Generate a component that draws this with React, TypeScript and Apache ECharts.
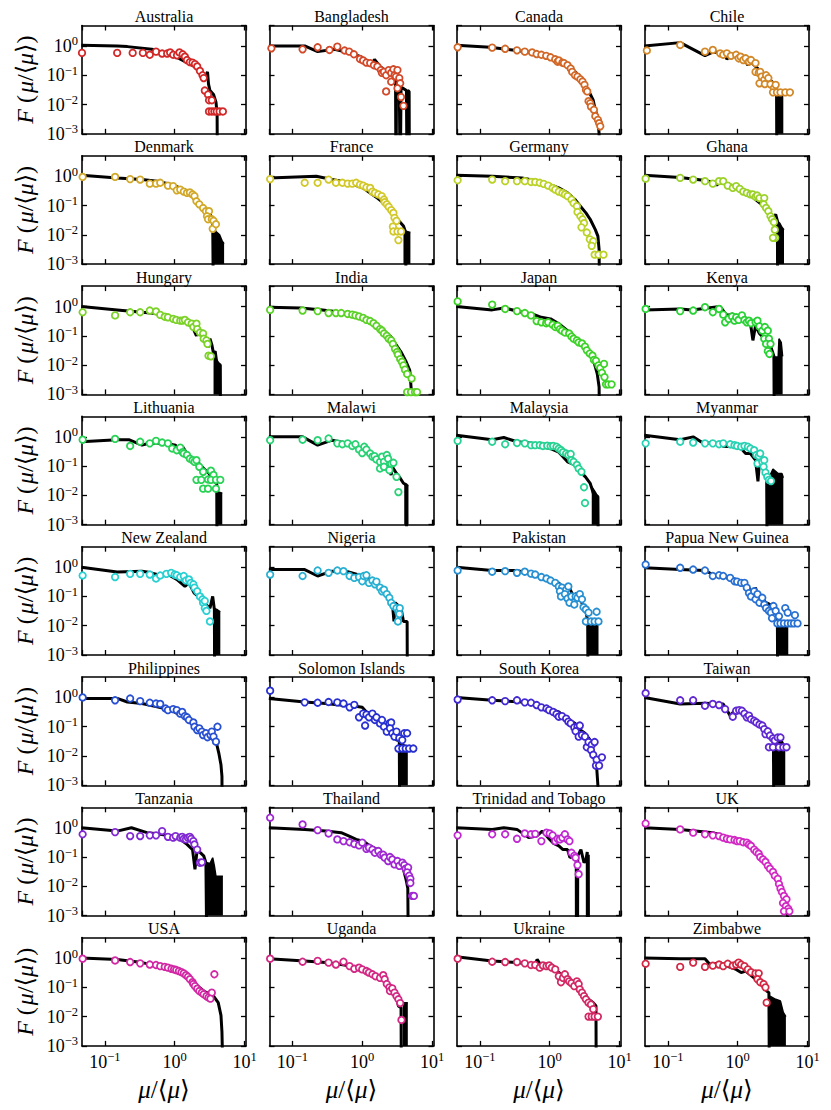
import React, { useEffect, useRef } from "react";
import * as echarts from "echarts";

// ---------- data: x = mu/<mu>, y = F(mu/<mu>) ----------
const countries = [
  "Australia", "Bangladesh", "Canada", "Chile",
  "Denmark", "France", "Germany", "Ghana",
  "Hungary", "India", "Japan", "Kenya",
  "Lithuania", "Malawi", "Malaysia", "Myanmar",
  "New Zealand", "Nigeria", "Pakistan", "Papua New Guinea",
  "Philippines", "Solomon Islands", "South Korea", "Taiwan",
  "Tanzania", "Thailand", "Trinidad and Tobago", "UK",
  "USA", "Uganda", "Ukraine", "Zimbabwe",
];

const xTickExponents = [-1, 0, 1];
const yTickExponents = [-3, -2, -1, 0];

const lineAustralia = [[0.046,1.05],[0.15,1.0],[0.21,0.95],[0.47,0.77],[0.76,0.56],[1.03,0.43],[1.41,0.29],[1.92,0.2],[2.3,0.12],[2.8,0.1],[2.95,0.13],[3.05,0.05],[3.2,0.03],[3.6,0.022],[3.9,0.012],[4.05,0.005],[4.1,0.00001]];
const dotsAustralia = [[0.047,0.58],[0.15,0.58],[0.25,0.58],[0.35,0.58],[0.44,0.5],[0.54,0.64],[0.66,0.55],[0.78,0.55],[0.86,0.6],[0.95,0.5],[1.08,0.48],[1.17,0.6],[1.3,0.52],[1.4,0.43],[1.5,0.33],[1.65,0.28],[1.8,0.27],[1.95,0.24],[2.1,0.2],[2.3,0.14],[2.5,0.1],[2.6,0.08],[2.7,0.03],[3.0,0.022],[3.1,0.014],[3.4,0.014],[3.1,0.0058],[3.4,0.0058],[3.7,0.0058],[4.0,0.0058],[4.4,0.0058],[4.9,0.0058]];
const tailAustralia = [];

const lineBangladesh = [[0.046,1.0],[0.15,1.0],[0.23,0.64],[0.4,0.77],[0.7,0.56],[0.95,0.43],[1.2,0.29],[1.41,0.26],[1.5,0.35],[1.8,0.2],[2.4,0.12],[2.8,0.1],[3.0,0.1],[3.05,0.00001],[3.1,0.07],[3.4,0.05],[3.5,0.00001],[3.6,0.04],[4.3,0.03],[4.4,0.00001],[4.5,0.03],[4.7,0.028],[4.75,0.00001]];
const dotsBangladesh = [[0.05,0.83],[0.14,0.77],[0.23,0.9],[0.34,0.73],[0.44,0.95],[0.56,0.7],[0.65,0.64],[0.76,0.52],[0.93,0.36],[1.03,0.32],[1.15,0.27],[1.3,0.26],[1.47,0.22],[1.65,0.2],[1.85,0.15],[1.92,0.12],[2.05,0.13],[2.2,0.1],[2.4,0.15],[2.6,0.12],[2.8,0.16],[2.9,0.1],[3.05,0.09],[3.2,0.15],[3.4,0.08],[3.5,0.053],[2.2,0.028],[2.6,0.06],[3.2,0.036],[3.6,0.018],[3.9,0.009]];
const tailBangladesh = [];

const lineCanada = [[0.046,1.05],[0.14,0.9],[0.34,0.7],[0.65,0.56],[1.03,0.43],[1.41,0.33],[1.92,0.2],[2.4,0.12],[3.1,0.05],[3.6,0.03],[4.2,0.014],[4.5,0.0065],[4.9,0.0033],[5.1,0.001],[5.15,0.00001]];
const dotsCanada = [[0.048,0.9],[0.15,0.88],[0.23,0.8],[0.34,0.71],[0.44,0.64],[0.56,0.6],[0.65,0.53],[0.76,0.5],[0.89,0.46],[1.03,0.41],[1.2,0.35],[1.3,0.29],[1.35,0.32],[1.52,0.27],[1.6,0.26],[1.8,0.22],[2.0,0.17],[2.1,0.13],[2.3,0.1],[2.5,0.09],[2.75,0.073],[2.95,0.061],[3.15,0.047],[3.3,0.032],[3.45,0.028],[3.6,0.013],[3.8,0.011],[3.9,0.0085],[4.3,0.0066],[4.5,0.004],[4.9,0.003],[5.1,0.0023],[5.3,0.0018]];
const tailCanada = [];

const lineChile = [[0.046,1.0],[0.15,1.3],[0.34,0.47],[0.44,0.62],[0.56,0.6],[0.65,0.6],[0.7,0.35],[0.78,0.5],[0.95,0.42],[1.05,0.3],[1.15,0.45],[1.3,0.3],[1.4,0.22],[1.5,0.3],[1.8,0.2],[2.4,0.1],[3.1,0.06],[3.6,0.028],[3.65,0.00001]];
const dotsChile = [[0.05,0.7],[0.15,1.08],[0.34,0.64],[0.44,0.73],[0.56,0.56],[0.62,0.5],[0.7,0.56],[0.8,0.46],[0.95,0.5],[1.03,0.38],[1.1,0.43],[1.2,0.33],[1.3,0.38],[1.45,0.29],[1.55,0.33],[1.8,0.26],[1.8,0.13],[2.0,0.12],[2.1,0.13],[2.2,0.09],[2.4,0.07],[2.55,0.1],[2.75,0.08],[2.05,0.053],[2.45,0.05],[2.95,0.049],[3.3,0.036],[3.5,0.047],[3.2,0.026],[3.65,0.026],[4.1,0.026],[4.8,0.026],[5.6,0.026]];
const tailChile = [[3.6,0.026],[4.5,0.024]];

const lineDenmark = [[0.046,1.08],[0.15,0.88],[0.34,0.77],[0.56,0.68],[0.89,0.52],[1.2,0.4],[1.65,0.24],[1.85,0.2],[1.95,0.13],[2.05,0.18],[2.4,0.095],[3.1,0.064],[3.5,0.03],[3.6,0.00001]];
const dotsDenmark = [[0.048,0.95],[0.14,0.95],[0.23,0.8],[0.32,0.77],[0.44,0.56],[0.54,0.56],[0.62,0.6],[0.8,0.48],[0.95,0.46],[1.07,0.33],[1.2,0.35],[1.35,0.3],[1.5,0.27],[1.65,0.28],[1.8,0.24],[1.92,0.21],[2.05,0.14],[2.25,0.11],[2.55,0.082],[2.8,0.064],[3.1,0.064],[2.9,0.043],[3.0,0.034],[3.4,0.034],[3.6,0.03],[3.5,0.016],[3.9,0.023]];
const tailDenmark = [[3.5,0.02],[3.9,0.013],[4.4,0.01],[4.8,0.006],[5.1,0.005]];

const lineFrance = [[0.046,0.88],[0.22,1.0],[0.37,0.77],[0.65,0.6],[0.82,0.48],[1.03,0.4],[1.3,0.27],[1.65,0.18],[2.05,0.12],[2.4,0.08],[2.8,0.056],[3.2,0.034],[3.9,0.02],[4.2,0.012],[4.25,0.00001]];
const dotsFrance = [[0.048,0.8],[0.15,0.6],[0.23,0.6],[0.33,0.77],[0.42,0.6],[0.52,0.6],[0.62,0.56],[0.72,0.56],[0.82,0.6],[0.93,0.52],[1.03,0.48],[1.15,0.42],[1.3,0.4],[1.4,0.3],[1.52,0.27],[1.7,0.24],[1.9,0.21],[2.05,0.16],[2.1,0.13],[2.25,0.11],[2.4,0.09],[2.6,0.07],[2.8,0.056],[2.9,0.038],[3.1,0.03],[2.75,0.019],[2.8,0.013],[3.2,0.013],[3.6,0.013],[3.3,0.0066]];
const tailFrance = [[3.9,0.014],[4.9,0.012]];

const lineGermany = [[0.046,1.08],[0.15,1.0],[0.4,0.88],[0.7,0.68],[1.0,0.52],[1.35,0.4],[1.8,0.27],[2.3,0.16],[2.75,0.095],[3.3,0.056],[3.8,0.034],[4.5,0.015],[4.9,0.009],[5.1,0.0032],[5.2,0.00001]];
const dotsGermany = [[0.048,0.73],[0.15,0.77],[0.23,0.68],[0.34,0.68],[0.44,0.68],[0.54,0.64],[0.62,0.64],[0.72,0.6],[0.82,0.55],[0.95,0.48],[1.1,0.4],[1.2,0.35],[1.35,0.3],[1.52,0.27],[1.65,0.24],[1.8,0.21],[2.05,0.16],[2.2,0.12],[2.45,0.095],[2.5,0.06],[2.75,0.043],[2.95,0.034],[3.1,0.025],[2.85,0.018],[3.4,0.012],[3.75,0.007],[4.2,0.006],[4.0,0.0042],[4.4,0.0021],[5.0,0.0021],[5.9,0.0021]];
const tailGermany = [];

const lineGhana = [[0.046,1.08],[0.15,0.9],[0.3,0.75],[0.45,0.62],[0.5,0.5],[0.55,0.62],[0.95,0.45],[1.3,0.3],[1.7,0.18],[2.1,0.12],[2.5,0.08],[2.9,0.055],[3.3,0.04],[3.5,0.05],[3.7,0.03],[3.75,0.00001]];
const dotsGhana = [[0.048,0.83],[0.15,0.88],[0.23,0.77],[0.34,0.68],[0.44,0.56],[0.54,0.68],[0.62,0.68],[0.72,0.48],[0.85,0.4],[0.95,0.46],[1.07,0.37],[1.2,0.3],[1.35,0.27],[1.52,0.24],[1.65,0.24],[1.8,0.2],[1.9,0.22],[2.05,0.18],[2.4,0.18],[2.35,0.11],[2.55,0.083],[2.75,0.064],[2.95,0.043],[3.1,0.034],[3.3,0.027],[3.4,0.015],[3.45,0.0079],[3.2,0.0079]];
const tailGhana = [[3.7,0.03],[4.0,0.025],[4.3,0.018],[4.6,0.015]];

const lineHungary = [[0.046,1.0],[0.15,0.77],[0.34,0.64],[0.65,0.56],[0.76,0.43],[1.03,0.38],[1.4,0.29],[1.8,0.2],[2.05,0.1],[2.2,0.17],[2.4,0.12],[2.8,0.07],[3.0,0.04],[3.2,0.08],[3.4,0.05],[3.6,0.025],[3.8,0.03],[4.0,0.012],[4.5,0.01],[4.55,0.00001]];
const dotsHungary = [[0.048,0.64],[0.14,0.5],[0.23,0.64],[0.32,0.64],[0.44,0.73],[0.54,0.68],[0.62,0.52],[0.72,0.45],[0.8,0.43],[0.95,0.38],[1.05,0.35],[1.2,0.33],[1.3,0.33],[1.4,0.35],[1.55,0.29],[1.75,0.26],[1.85,0.2],[2.05,0.26],[2.1,0.17],[2.3,0.13],[2.55,0.12],[2.6,0.08],[2.85,0.07],[2.95,0.053],[3.05,0.021],[3.3,0.02]];
const tailHungary = [[3.6,0.02],[4.0,0.015],[4.5,0.01]];

const lineIndia = [[0.046,0.95],[0.13,0.9],[0.27,0.77],[0.5,0.64],[0.82,0.5],[1.2,0.38],[1.6,0.26],[2.05,0.15],[2.6,0.09],[3.1,0.047],[3.6,0.028],[4.2,0.014],[4.8,0.0066],[5.1,0.001],[5.15,0.00001]];
const dotsIndia = [[0.048,0.77],[0.14,0.73],[0.23,0.7],[0.33,0.6],[0.42,0.6],[0.5,0.6],[0.62,0.56],[0.72,0.53],[0.8,0.5],[0.9,0.46],[1.03,0.41],[1.15,0.35],[1.3,0.32],[1.45,0.27],[1.6,0.22],[1.8,0.17],[1.92,0.15],[2.05,0.12],[2.25,0.1],[2.4,0.08],[2.6,0.07],[2.75,0.053],[2.95,0.036],[3.15,0.028],[3.25,0.023],[3.5,0.016],[3.7,0.013],[3.9,0.0098],[4.1,0.007],[4.4,0.005],[5.1,0.0035],[4.4,0.0012],[5.0,0.0012],[5.7,0.0012],[6.1,0.0012]];
const tailIndia = [];

const lineJapan = [[0.046,1.0],[0.15,0.77],[0.22,0.9],[0.4,0.64],[0.56,0.56],[0.76,0.43],[1.03,0.38],[1.35,0.26],[1.8,0.15],[2.45,0.08],[3.1,0.047],[3.6,0.028],[4.3,0.013],[4.8,0.005],[5.1,0.0018],[5.2,0.00001]];
const dotsJapan = [[0.048,1.5],[0.15,1.17],[0.23,0.83],[0.34,0.7],[0.44,0.6],[0.54,0.5],[0.65,0.32],[0.76,0.29],[0.89,0.27],[0.95,0.29],[1.1,0.24],[1.2,0.2],[1.3,0.22],[1.4,0.17],[1.5,0.15],[1.65,0.13],[1.9,0.12],[2.05,0.095],[2.2,0.08],[2.45,0.07],[2.6,0.06],[2.9,0.055],[3.2,0.043],[3.4,0.032],[3.75,0.025],[4.1,0.021],[4.3,0.015],[4.6,0.014],[5.0,0.0098],[5.3,0.008],[6.0,0.011],[5.6,0.0055],[6.1,0.0039],[6.4,0.0022],[6.9,0.0022],[7.7,0.0022]];
const tailJapan = [];

const lineKenya = [[0.046,0.77],[0.15,0.83],[0.22,0.77],[0.56,1.0],[0.7,0.5],[0.85,0.56],[1.05,0.33],[1.12,0.43],[1.3,0.26],[1.4,0.35],[1.55,0.2],[1.65,0.07],[1.8,0.22],[2.05,0.12],[2.4,0.08],[2.75,0.061],[3.0,0.04],[3.3,0.02],[3.35,0.00001]];
const dotsKenya = [[0.048,0.83],[0.15,0.7],[0.23,0.73],[0.34,0.95],[0.44,0.64],[0.54,0.83],[0.62,0.53],[0.66,0.29],[0.74,0.38],[0.83,0.46],[0.9,0.33],[0.95,0.43],[1.03,0.35],[1.15,0.5],[1.25,0.35],[1.35,0.29],[1.45,0.33],[1.55,0.27],[1.8,0.29],[1.92,0.33],[2.05,0.21],[2.25,0.15],[2.45,0.2],[2.7,0.15],[2.4,0.08],[2.8,0.08],[2.55,0.053],[2.95,0.053],[2.7,0.03],[2.85,0.024]];
const tailKenya = [[3.3,0.019],[3.8,0.019],[3.9,0.08],[4.2,0.06],[4.4,0.02]];

const lineLithuania = [[0.046,0.68],[0.15,0.8],[0.22,0.8],[0.34,0.52],[0.44,0.62],[0.76,0.6],[1.03,0.52],[1.2,0.27],[1.3,0.46],[1.6,0.21],[2.05,0.16],[2.4,0.1],[3.1,0.056],[3.6,0.03],[4.0,0.026],[4.05,0.00001]];
const dotsLithuania = [[0.048,0.8],[0.14,0.85],[0.23,0.49],[0.32,0.68],[0.44,0.6],[0.54,0.73],[0.66,0.64],[0.8,0.6],[0.92,0.4],[1.07,0.35],[1.2,0.43],[1.3,0.3],[1.35,0.27],[1.5,0.24],[1.65,0.18],[1.8,0.16],[1.92,0.14],[2.05,0.16],[2.25,0.095],[2.55,0.064],[2.05,0.034],[2.4,0.034],[3.0,0.035],[3.3,0.07],[3.6,0.05],[3.3,0.034],[3.9,0.034],[4.5,0.034],[2.55,0.017],[3.0,0.017],[3.9,0.017]];
const tailLithuania = [[3.9,0.014],[4.8,0.012]];

const lineMalawi = [[0.046,1.0],[0.14,1.0],[0.23,0.52],[0.37,0.77],[0.62,0.6],[0.85,0.46],[1.03,0.35],[1.3,0.24],[1.65,0.16],[2.05,0.11],[2.35,0.095],[2.6,0.05],[2.7,0.095],[3.1,0.056],[3.4,0.043],[3.9,0.026],[4.3,0.023],[4.35,0.00001]];
const dotsMalawi = [[0.048,0.77],[0.14,0.8],[0.23,0.77],[0.33,0.88],[0.44,0.6],[0.52,0.56],[0.62,0.6],[0.72,0.49],[0.8,0.56],[0.9,0.37],[1.0,0.28],[1.07,0.46],[1.15,0.37],[1.3,0.27],[1.4,0.21],[1.5,0.22],[1.6,0.17],[1.8,0.14],[1.92,0.21],[2.05,0.14],[2.25,0.24],[2.35,0.18],[1.8,0.083],[2.05,0.095],[2.45,0.073],[2.6,0.12],[2.8,0.13],[3.1,0.043],[3.3,0.013]];
const tailMalawi = [[4.0,0.023],[4.6,0.022]];

const lineMalaysia = [[0.046,1.14],[0.15,0.8],[0.22,0.95],[0.34,0.68],[0.56,0.6],[0.76,0.46],[1.03,0.4],[1.35,0.3],[1.55,0.21],[1.8,0.14],[2.3,0.11],[2.75,0.064],[3.25,0.043],[3.8,0.026],[4.2,0.012],[4.9,0.009],[5.0,0.00001]];
const dotsMalaysia = [[0.048,0.73],[0.15,0.68],[0.23,0.56],[0.34,0.62],[0.44,0.6],[0.54,0.52],[0.62,0.52],[0.72,0.52],[0.8,0.49],[0.92,0.5],[1.03,0.48],[1.12,0.49],[1.25,0.46],[1.35,0.4],[1.45,0.35],[1.55,0.3],[1.72,0.27],[1.85,0.24],[2.0,0.26],[2.05,0.16],[2.2,0.14],[2.45,0.11],[2.6,0.083],[2.85,0.064],[3.1,0.019],[3.2,0.0055]];
const tailMalaysia = [[4.0,0.02],[4.5,0.013],[4.9,0.009]];

const lineMyanmar = [[0.046,1.14],[0.15,0.8],[0.23,1.0],[0.34,0.56],[0.44,0.68],[0.62,0.48],[0.85,0.46],[1.12,0.4],[1.3,0.27],[1.52,0.27],[1.8,0.16],[1.95,0.03],[2.05,0.14],[2.4,0.083],[2.6,0.034],[2.65,0.00001]];
const dotsMyanmar = [[0.048,0.6],[0.15,0.68],[0.23,0.64],[0.34,0.6],[0.44,0.6],[0.54,0.56],[0.62,0.6],[0.78,0.56],[0.9,0.52],[0.98,0.49],[1.12,0.46],[1.25,0.49],[1.4,0.46],[1.52,0.4],[1.72,0.35],[1.85,0.24],[2.0,0.22],[2.1,0.27],[1.92,0.123],[2.25,0.14],[2.4,0.16],[2.35,0.095],[2.5,0.06],[2.65,0.043],[2.8,0.034],[3.0,0.031]];
const tailMyanmar = [[2.7,0.033],[3.2,0.08],[3.8,0.056],[4.3,0.056],[4.5,0.04]];

const lineNewZealand = [[0.046,1.0],[0.15,0.68],[0.34,0.73],[0.4,0.68],[0.56,0.56],[0.8,0.56],[1.07,0.38],[1.4,0.22],[1.6,0.29],[1.9,0.13],[2.2,0.1],[2.8,0.053],[3.2,0.04],[3.5,0.1],[3.7,0.036],[3.75,0.00001]];
const dotsNewZealand = [[0.048,0.52],[0.14,0.46],[0.23,0.59],[0.32,0.59],[0.44,0.56],[0.54,0.41],[0.62,0.52],[0.76,0.59],[0.89,0.64],[1.0,0.56],[1.07,0.53],[1.2,0.46],[1.35,0.5],[1.45,0.35],[1.6,0.38],[1.7,0.29],[1.85,0.26],[1.92,0.2],[2.1,0.15],[2.3,0.1],[2.5,0.08],[2.55,0.061],[2.7,0.04],[2.85,0.032],[2.7,0.07],[3.2,0.014]];
const tailNewZealand = [[3.6,0.04],[4.1,0.035],[4.5,0.03]];

const lineNigeria = [[0.046,0.83],[0.15,0.83],[0.23,0.5],[0.37,0.73],[0.62,0.7],[0.85,0.56],[1.2,0.43],[1.45,0.29],[1.8,0.2],[2.25,0.12],[2.7,0.061],[2.85,0.014],[2.95,0.061],[3.6,0.04],[3.9,0.014],[4.4,0.014],[4.45,0.00001]];
const dotsNigeria = [[0.048,0.56],[0.14,0.5],[0.23,0.77],[0.33,0.64],[0.44,0.77],[0.54,0.73],[0.66,0.5],[0.77,0.43],[0.9,0.46],[1.0,0.33],[1.05,0.5],[1.15,0.53],[1.25,0.29],[1.4,0.35],[1.52,0.26],[1.6,0.32],[1.8,0.2],[1.92,0.15],[2.05,0.17],[2.25,0.12],[2.45,0.09],[2.6,0.061],[2.8,0.047],[3.1,0.04],[3.3,0.03],[3.45,0.04],[3.4,0.025],[3.25,0.014]];
const tailNigeria = [];

const linePakistan = [[0.046,1.0],[0.15,0.77],[0.34,0.77],[0.56,0.56],[0.76,0.46],[1.03,0.33],[1.35,0.29],[1.65,0.17],[1.9,0.2],[2.2,0.1],[2.45,0.13],[2.8,0.07],[3.3,0.032],[3.5,0.014],[3.55,0.00001]];
const dotsPakistan = [[0.048,0.77],[0.15,0.7],[0.23,0.73],[0.34,0.64],[0.44,0.7],[0.54,0.6],[0.62,0.56],[0.76,0.46],[0.9,0.41],[1.03,0.35],[1.2,0.29],[1.35,0.22],[1.5,0.2],[1.72,0.17],[1.85,0.22],[1.4,0.15],[1.45,0.1],[1.65,0.12],[1.8,0.085],[1.92,0.061],[2.05,0.1],[2.25,0.053],[2.35,0.1],[2.5,0.09],[2.7,0.12],[2.9,0.08],[3.05,0.043],[3.3,0.036],[3.6,0.028],[3.3,0.014],[3.9,0.014],[4.4,0.014],[5.0,0.014],[4.7,0.03]];
const tailPakistan = [[3.5,0.014],[5.0,0.014]];

const linePapuaNewGuinea = [[0.046,0.95],[0.15,0.83],[0.34,0.77],[0.44,0.56],[0.7,0.43],[0.9,0.33],[1.12,0.26],[1.4,0.22],[1.65,0.12],[1.8,0.2],[1.92,0.1],[2.25,0.08],[2.55,0.061],[3.25,0.047],[3.5,0.036],[3.7,0.018],[3.75,0.00001]];
const dotsPapuaNewGuinea = [[0.048,1.23],[0.15,0.95],[0.23,0.83],[0.34,0.77],[0.44,0.5],[0.54,0.53],[0.62,0.5],[0.78,0.43],[0.9,0.33],[0.98,0.32],[1.12,0.29],[1.25,0.29],[1.35,0.2],[1.45,0.13],[1.55,0.1],[1.72,0.15],[1.8,0.08],[1.92,0.12],[2.05,0.061],[2.25,0.09],[2.4,0.053],[2.55,0.04],[2.8,0.032],[3.0,0.028],[3.25,0.047],[3.5,0.032],[3.9,0.021],[3.1,0.018],[3.7,0.012],[4.1,0.012],[4.6,0.012],[5.2,0.012],[5.8,0.012],[6.4,0.012],[7.2,0.012],[4.8,0.04],[5.2,0.028],[6.6,0.023]];
const tailPapuaNewGuinea = [[3.7,0.018],[4.5,0.013],[5.3,0.011]];

const linePhilippines = [[0.046,0.93],[0.15,0.93],[0.21,0.7],[0.34,0.62],[0.56,0.48],[0.89,0.37],[1.2,0.25],[1.6,0.17],[2.2,0.1],[2.8,0.052],[3.6,0.035],[4.0,0.025],[4.3,0.012],[4.6,0.005],[4.75,0.002],[4.8,0.00001]];
const dotsPhilippines = [[0.048,1.0],[0.14,0.8],[0.23,0.92],[0.32,0.75],[0.44,0.66],[0.54,0.62],[0.62,0.6],[0.74,0.42],[0.8,0.37],[0.95,0.4],[1.07,0.37],[1.2,0.28],[1.28,0.32],[1.4,0.23],[1.5,0.21],[1.6,0.17],[1.85,0.14],[1.92,0.1],[2.1,0.077],[2.25,0.088],[2.45,0.068],[2.55,0.052],[2.8,0.06],[2.95,0.044],[3.25,0.052],[3.4,0.068],[3.6,0.046],[4.1,0.1],[3.9,0.031]];
const tailPhilippines = [];

const lineSolomonIslands = [[0.046,0.93],[0.15,0.7],[0.3,0.62],[0.44,0.56],[0.72,0.52],[1.0,0.46],[1.15,0.32],[1.45,0.25],[1.65,0.15],[1.92,0.11],[2.25,0.077],[2.6,0.06],[3.1,0.035],[3.4,0.035],[3.45,0.00001]];
const dotsSolomonIslands = [[0.048,1.7],[0.15,0.68],[0.23,0.66],[0.33,0.7],[0.44,0.68],[0.54,0.62],[0.66,0.46],[0.77,0.56],[0.9,0.21],[1.03,0.28],[1.1,0.11],[1.15,0.26],[1.25,0.21],[1.4,0.28],[1.52,0.17],[1.6,0.21],[1.8,0.13],[1.92,0.17],[2.05,0.1],[2.25,0.068],[2.45,0.13],[2.6,0.14],[2.5,0.088],[2.7,0.06],[2.9,0.046],[3.1,0.068],[3.4,0.041],[3.75,0.035],[4.0,0.06],[4.4,0.06],[3.3,0.018],[3.75,0.018],[4.2,0.018],[4.7,0.018],[5.4,0.018]];
const tailSolomonIslands = [[3.4,0.035],[3.9,0.025],[4.5,0.018]];

const lineSouthKorea = [[0.046,1.0],[0.15,0.8],[0.4,0.7],[0.76,0.52],[1.03,0.4],[1.35,0.32],[1.8,0.18],[2.3,0.13],[2.75,0.077],[3.2,0.06],[3.8,0.035],[4.3,0.012],[4.7,0.0043],[4.9,0.001],[4.95,0.00001]];
const dotsSouthKorea = [[0.048,0.85],[0.15,0.8],[0.23,0.75],[0.34,0.8],[0.44,0.68],[0.54,0.66],[0.65,0.55],[0.76,0.46],[0.9,0.42],[0.98,0.37],[1.12,0.32],[1.25,0.27],[1.35,0.22],[1.5,0.23],[1.72,0.19],[1.85,0.15],[2.0,0.13],[2.25,0.095],[2.5,0.1],[2.7,0.11],[2.35,0.07],[2.6,0.046],[2.9,0.052],[3.2,0.046],[3.4,0.02],[3.6,0.03],[4.0,0.024],[4.4,0.03],[3.9,0.016],[4.2,0.011],[4.7,0.0075],[4.6,0.0047],[5.1,0.0047],[5.6,0.009]];
const tailSouthKorea = [];

const lineTaiwan = [[0.046,1.0],[0.15,0.6],[0.34,0.64],[0.62,0.6],[0.78,0.24],[0.9,0.35],[1.12,0.35],[1.3,0.24],[1.8,0.17],[2.25,0.11],[2.6,0.077],[3.0,0.043],[3.25,0.035],[3.3,0.00001]];
const dotsTaiwan = [[0.048,1.4],[0.15,0.8],[0.23,0.8],[0.34,0.52],[0.44,0.6],[0.54,0.55],[0.66,0.4],[0.85,0.22],[0.95,0.35],[1.05,0.37],[1.15,0.35],[1.25,0.28],[1.35,0.21],[1.45,0.24],[1.55,0.18],[1.72,0.16],[1.85,0.14],[2.05,0.12],[2.25,0.11],[2.4,0.083],[2.5,0.056],[2.7,0.07],[2.9,0.05],[3.2,0.04],[3.4,0.034],[3.75,0.043],[4.1,0.043],[2.8,0.02],[3.2,0.02],[3.9,0.02],[4.5,0.02],[5.0,0.02]];
const tailTaiwan = [[3.4,0.04],[3.9,0.045],[4.4,0.03],[4.8,0.02]];

const lineTanzania = [[0.046,1.0],[0.15,0.77],[0.24,1.0],[0.4,0.68],[0.56,0.62],[0.89,0.52],[1.2,0.4],[1.5,0.27],[1.8,0.18],[1.95,0.038],[2.1,0.18],[2.6,0.11],[2.8,0.064],[2.9,0.00001]];
const dotsTanzania = [[0.048,0.6],[0.14,0.71],[0.23,0.52],[0.32,0.52],[0.44,0.55],[0.54,0.55],[0.66,0.77],[0.8,0.49],[0.95,0.46],[1.03,0.52],[1.2,0.46],[1.28,0.49],[1.35,0.42],[1.45,0.4],[1.55,0.46],[1.65,0.49],[1.72,0.42],[1.85,0.35],[1.92,0.27],[2.1,0.18],[2.3,0.064],[2.45,0.066]];
const tailTanzania = [[2.9,0.064],[3.2,0.06],[3.5,0.095],[3.7,0.05],[3.9,0.022],[4.9,0.022]];

const lineThailand = [[0.046,1.0],[0.15,0.88],[0.3,0.77],[0.5,0.68],[0.65,0.52],[0.82,0.4],[1.03,0.35],[1.3,0.24],[1.65,0.18],[2.05,0.12],[2.6,0.095],[3.2,0.064],[3.9,0.038],[4.3,0.015],[4.5,0.0085],[4.6,0.00001]];
const dotsThailand = [[0.048,2.2],[0.14,1.3],[0.23,0.83],[0.33,0.64],[0.44,0.4],[0.54,0.35],[0.66,0.32],[0.77,0.28],[0.9,0.25],[1.0,0.31],[1.15,0.19],[1.25,0.21],[1.4,0.18],[1.52,0.14],[1.7,0.16],[1.85,0.12],[2.0,0.12],[2.1,0.095],[2.35,0.073],[2.5,0.1],[2.7,0.083],[2.9,0.056],[3.2,0.073],[3.4,0.05],[3.75,0.064],[4.0,0.053],[4.2,0.04],[4.55,0.044],[4.4,0.03],[4.7,0.023],[4.9,0.018],[4.9,0.013],[5.2,0.0047],[5.5,0.0047]];
const tailThailand = [];

const lineTrinidadAndTobago = [[0.046,1.0],[0.15,0.88],[0.22,1.0],[0.34,0.88],[0.5,0.46],[0.65,0.52],[0.78,0.77],[1.0,0.4],[1.12,0.3],[1.35,0.24],[1.55,0.18],[1.8,0.18],[1.95,0.095],[2.25,0.12],[2.4,0.1],[2.42,0.00001],[2.5,0.00001],[2.52,0.11],[2.8,0.18],[3.1,0.064],[3.3,0.08],[3.45,0.15],[3.47,0.00001],[3.55,0.00001],[3.57,0.12],[3.6,0.00001]];
const dotsTrinidadAndTobago = [[0.048,0.55],[0.15,0.6],[0.23,0.6],[0.34,0.42],[0.44,0.64],[0.54,0.6],[0.62,0.62],[0.76,0.35],[0.9,0.68],[1.0,0.64],[1.1,0.55],[1.2,0.35],[1.3,0.42],[1.4,0.4],[1.52,0.46],[1.65,0.6],[1.8,0.4],[1.92,0.35],[2.05,0.14],[2.25,0.11],[2.35,0.095],[2.5,0.053],[2.6,0.026]];
const tailTrinidadAndTobago = [];

const lineUK = [[0.046,1.0],[0.15,0.88],[0.44,0.68],[0.95,0.4],[1.3,0.31],[1.8,0.18],[2.4,0.074],[3.25,0.029],[4.1,0.01],[4.8,0.0036],[5.2,0.001],[5.25,0.00001]];
const dotsUK = [[0.048,1.4],[0.15,0.88],[0.23,0.68],[0.34,0.6],[0.44,0.55],[0.54,0.52],[0.62,0.46],[0.7,0.42],[0.78,0.4],[0.9,0.38],[0.98,0.35],[1.07,0.35],[1.2,0.32],[1.35,0.31],[1.45,0.27],[1.55,0.24],[1.72,0.18],[1.85,0.15],[2.0,0.13],[2.1,0.1],[2.3,0.083],[2.5,0.068],[2.7,0.05],[2.9,0.04],[3.2,0.031],[3.4,0.023],[3.75,0.018],[3.9,0.012],[4.1,0.0085],[4.3,0.0064],[4.6,0.0047],[5.0,0.0036],[4.45,0.0027],[4.9,0.0021],[5.3,0.0017],[4.6,0.0014],[5.5,0.0014]];
const tailUK = [];

const lineUSA = [[0.046,1.0],[0.15,0.9],[0.34,0.7],[0.76,0.47],[1.03,0.36],[1.4,0.24],[1.9,0.14],[2.6,0.075],[3.6,0.05],[4.2,0.03],[4.6,0.011],[4.75,0.003],[4.8,0.001],[4.82,0.00001]];
const dotsUSA = [[0.048,0.95],[0.14,0.83],[0.23,0.73],[0.32,0.66],[0.44,0.6],[0.54,0.58],[0.62,0.53],[0.72,0.5],[0.8,0.47],[0.9,0.43],[0.98,0.41],[1.05,0.39],[1.15,0.36],[1.25,0.33],[1.35,0.3],[1.45,0.26],[1.55,0.23],[1.65,0.19],[1.8,0.15],[1.85,0.13],[1.95,0.11],[2.1,0.09],[2.25,0.075],[2.45,0.066],[2.6,0.058],[2.85,0.05],[3.05,0.045],[3.4,0.066],[3.25,0.041],[3.7,0.28]];
const tailUSA = [];

const lineUganda = [[0.046,0.95],[0.15,0.8],[0.3,0.7],[0.5,0.6],[0.72,0.52],[1.0,0.41],[1.3,0.32],[1.8,0.21],[2.25,0.14],[2.6,0.086],[3.1,0.05],[3.3,0.023],[3.6,0.02],[3.65,0.00001]];
const dotsUganda = [[0.048,0.95],[0.14,0.75],[0.23,0.8],[0.33,0.7],[0.42,0.6],[0.54,0.75],[0.66,0.53],[0.77,0.43],[0.9,0.47],[1.0,0.41],[1.15,0.36],[1.25,0.32],[1.4,0.28],[1.55,0.24],[1.8,0.21],[2.0,0.26],[2.1,0.19],[2.25,0.13],[2.45,0.1],[2.5,0.075],[2.7,0.092],[2.9,0.066],[3.1,0.05],[3.3,0.039],[3.5,0.029],[3.65,0.0077]];
const tailUganda = [[3.8,0.03],[4.5,0.03]];

const lineUkraine = [[0.046,1.1],[0.15,0.8],[0.34,0.7],[0.56,0.6],[0.62,0.6],[0.66,0.9],[0.76,0.53],[1.03,0.47],[1.35,0.32],[1.8,0.19],[2.25,0.13],[2.8,0.075],[3.6,0.039],[4.2,0.03],[4.6,0.023],[4.65,0.00001]];
const dotsUkraine = [[0.048,0.95],[0.15,0.75],[0.23,0.73],[0.34,0.73],[0.44,0.66],[0.54,0.58],[0.62,0.58],[0.72,0.47],[0.8,0.56],[0.9,0.53],[0.98,0.56],[1.07,0.47],[1.2,0.41],[1.35,0.24],[1.45,0.15],[1.55,0.21],[1.65,0.28],[1.8,0.19],[1.9,0.16],[2.05,0.14],[2.25,0.11],[2.45,0.16],[2.6,0.13],[2.7,0.085],[2.9,0.066],[3.1,0.05],[3.3,0.039],[3.6,0.03],[3.9,0.026],[4.2,0.018],[3.6,0.01],[4.0,0.01],[4.4,0.01],[4.9,0.01]];
const tailUkraine = [];

const lineZimbabwe = [[0.046,1.0],[0.15,0.95],[0.34,0.95],[0.4,0.6],[0.56,0.7],[0.7,0.53],[0.95,0.41],[1.12,0.32],[1.3,0.36],[1.8,0.19],[2.25,0.13],[2.6,0.075],[2.8,0.066],[2.85,0.00001]];
const dotsZimbabwe = [[0.048,0.64],[0.15,0.5],[0.23,0.7],[0.34,0.5],[0.44,0.55],[0.54,0.6],[0.62,0.53],[0.72,0.64],[0.85,0.55],[0.95,0.6],[1.03,0.7],[1.12,0.6],[1.25,0.53],[1.4,0.41],[1.55,0.33],[1.8,0.3],[2.0,0.3],[1.92,0.19],[2.1,0.15],[2.35,0.13],[2.5,0.1],[2.6,0.03]];
const tailZimbabwe = [[2.9,0.05],[3.5,0.039],[4.1,0.034],[4.5,0.014],[4.9,0.01]];

const lines = [lineAustralia, lineBangladesh, lineCanada, lineChile, lineDenmark, lineFrance, lineGermany, lineGhana, lineHungary, lineIndia, lineJapan, lineKenya, lineLithuania, lineMalawi, lineMalaysia, lineMyanmar, lineNewZealand, lineNigeria, linePakistan, linePapuaNewGuinea, linePhilippines, lineSolomonIslands, lineSouthKorea, lineTaiwan, lineTanzania, lineThailand, lineTrinidadAndTobago, lineUK, lineUSA, lineUganda, lineUkraine, lineZimbabwe];
const dots = [dotsAustralia, dotsBangladesh, dotsCanada, dotsChile, dotsDenmark, dotsFrance, dotsGermany, dotsGhana, dotsHungary, dotsIndia, dotsJapan, dotsKenya, dotsLithuania, dotsMalawi, dotsMalaysia, dotsMyanmar, dotsNewZealand, dotsNigeria, dotsPakistan, dotsPapuaNewGuinea, dotsPhilippines, dotsSolomonIslands, dotsSouthKorea, dotsTaiwan, dotsTanzania, dotsThailand, dotsTrinidadAndTobago, dotsUK, dotsUSA, dotsUganda, dotsUkraine, dotsZimbabwe];
const tails = [tailAustralia, tailBangladesh, tailCanada, tailChile, tailDenmark, tailFrance, tailGermany, tailGhana, tailHungary, tailIndia, tailJapan, tailKenya, tailLithuania, tailMalawi, tailMalaysia, tailMyanmar, tailNewZealand, tailNigeria, tailPakistan, tailPapuaNewGuinea, tailPhilippines, tailSolomonIslands, tailSouthKorea, tailTaiwan, tailTanzania, tailThailand, tailTrinidadAndTobago, tailUK, tailUSA, tailUganda, tailUkraine, tailZimbabwe];

// ---------- layout / style ----------
const COL_LEFT = [82, 269.5, 457, 645];
const ROW_TOP0 = 25.5;
const ROW_STEP = 130.3;
const PW = 164;
const PH = 108.3;
const XMIN = 0.047;
const XMAX = 10.5;
const YMIN = 0.001;
const YMAX = 5;
const FONT = '"Liberation Serif", "DejaVu Serif", serif';

function colorFor(i: number) {
  const h = (i * 350) / 31;
  return `hsl(${h.toFixed(1)}, 68%, 49%)`;
}

function supLabel(v: number) {
  const e = Math.round(Math.log10(v));
  const s = e < 0 ? "\u2212" + String(-e) : String(e);
  return `{b|10}{s|${s}}`;
}

const labelRich = {
  b: { fontSize: 18, fontFamily: FONT, color: "#000", lineHeight: 22 },
  s: { fontSize: 12.5, fontFamily: FONT, color: "#000", lineHeight: 13, verticalAlign: "top" },
};

function buildOption() {
  const grid: any[] = [];
  const xAxis: any[] = [];
  const yAxis: any[] = [];
  const series: any[] = [];
  const graphic: any[] = [];
  countries.forEach((name, i) => {
    const r = Math.floor(i / 4);
    const c = i % 4;
    const left = COL_LEFT[c];
    const top = ROW_TOP0 + r * ROW_STEP;
    grid.push({ left, top, width: PW, height: PH, containLabel: false, outerBoundsMode: "none" });
    const axisLine = { show: true, onZero: false, lineStyle: { color: "#000", width: 1.6 } };
    const axisTick = { show: true, inside: true, length: 5, lineStyle: { color: "#000", width: 1.3 } };
    const common = { gridIndex: i, type: "log", logBase: 10, splitLine: { show: false }, minorTick: { show: false }, minorSplitLine: { show: false }, axisLine, axisTick };
    xAxis.push({
      ...common, min: XMIN, max: XMAX, position: "bottom",
      axisLabel: { show: r === 7, showMinLabel: false, showMaxLabel: false, margin: 5, formatter: supLabel, rich: labelRich },
      name: r === 7 ? "{i|\u03bc}/\u27e8{i|\u03bc}\u27e9" : "",
      nameLocation: "middle", nameGap: 31, nameMoveOverlap: false,
      nameTextStyle: { fontSize: 25, fontFamily: FONT, color: "#000", rich: { i: { fontStyle: "italic", fontSize: 25, fontFamily: FONT, color: "#000" } } },
    });
    xAxis.push({ ...common, min: XMIN, max: XMAX, position: "top", axisLabel: { show: false } });
    yAxis.push({
      ...common, min: YMIN, max: YMAX, position: "left",
      axisLabel: { show: c === 0, showMinLabel: true, showMaxLabel: false, margin: 4, formatter: supLabel, rich: labelRich },
      name: c === 0 ? "{i|F} (\u200a{i|\u03bc}/\u27e8{i|\u03bc}\u27e9)" : "",
      nameLocation: "middle", nameRotate: 90, nameGap: 45, nameMoveOverlap: false,
      nameTextStyle: { fontSize: 24, fontFamily: FONT, color: "#000", rich: { i: { fontStyle: "italic", fontSize: 24, fontFamily: FONT, color: "#000" } } },
    });
    yAxis.push({ ...common, min: YMIN, max: YMAX, position: "right", axisLabel: { show: false } });

    const xi = 2 * i;
    series.push({
      type: "line", xAxisIndex: xi, yAxisIndex: xi, data: lines[i], symbol: "none", showSymbol: false,
      lineStyle: { color: "#000", width: 3 }, clip: true, z: 2, silent: true,
    });
    if (tails[i].length) {
      series.push({
        type: "line", xAxisIndex: xi, yAxisIndex: xi, data: tails[i], symbol: "none", showSymbol: false,
        lineStyle: { color: "#000", width: 1.5 }, areaStyle: { color: "#000", opacity: 1, origin: "start" }, clip: true, z: 2, silent: true,
      });
    }
    series.push({
      type: "scatter", xAxisIndex: xi, yAxisIndex: xi, data: dots[i], symbol: "circle", symbolSize: 6.5,
      itemStyle: { color: "#fff", borderColor: colorFor(i), borderWidth: 1.8, opacity: 1 }, clip: true, z: 3, silent: true,
    });

    graphic.push({
      type: "text", x: left + PW / 2, y: top - 1, silent: true,
      style: { text: name, fontSize: 16, fontFamily: FONT, fill: "#000", align: "center", verticalAlign: "bottom" },
    });
  });
  return { animation: false, backgroundColor: "#fff", grid, xAxis, yAxis, series, graphic };
}

export default function App() {
  const ref = useRef<HTMLDivElement>(null);
  useEffect(() => {
    if (!ref.current) return;
    const chart = echarts.init(ref.current, undefined, { renderer: "svg" });
    chart.setOption(buildOption() as any);
    return () => chart.dispose();
  }, []);
  return <div ref={ref} style={{ position: "absolute", left: 0, top: 0, width: 831, height: 1110, background: "#fff" }} />;
}
